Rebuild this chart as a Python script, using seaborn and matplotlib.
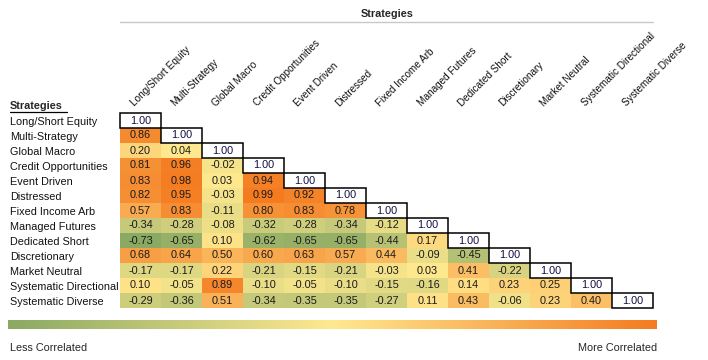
import numpy as np
import pandas as pd
import matplotlib
matplotlib.use("Agg")
import matplotlib.pyplot as plt
import seaborn as sns
from matplotlib.colors import LinearSegmentedColormap, TwoSlopeNorm
from matplotlib.patches import Rectangle
from matplotlib.transforms import blended_transform_factory

strategies = ["Long/Short Equity", "Multi-Strategy", "Global Macro", "Credit Opportunities",
              "Event Driven", "Distressed", "Fixed Income Arb", "Managed Futures",
              "Dedicated Short", "Discretionary", "Market Neutral",
              "Systematic Directional", "Systematic Diverse"]

# lower triangle, row by row (diagonal included)
row_lse = [1.00]
row_ms = [0.86, 1.00]
row_gm = [0.20, 0.04, 1.00]
row_co = [0.81, 0.96, -0.02, 1.00]
row_ed = [0.83, 0.98, 0.03, 0.94, 1.00]
row_dist = [0.82, 0.95, -0.03, 0.99, 0.92, 1.00]
row_fia = [0.57, 0.83, -0.11, 0.80, 0.83, 0.78, 1.00]
row_mf = [-0.34, -0.28, -0.08, -0.32, -0.28, -0.34, -0.12, 1.00]
row_ds = [-0.73, -0.65, 0.10, -0.62, -0.65, -0.65, -0.44, 0.17, 1.00]
row_disc = [0.68, 0.64, 0.50, 0.60, 0.63, 0.57, 0.44, -0.09, -0.45, 1.00]
row_mn = [-0.17, -0.17, 0.22, -0.21, -0.15, -0.21, -0.03, 0.03, 0.41, -0.22, 1.00]
row_sdir = [0.10, -0.05, 0.89, -0.10, -0.05, -0.10, -0.15, -0.16, 0.14, 0.23, 0.25, 1.00]
row_sdiv = [-0.29, -0.36, 0.51, -0.34, -0.35, -0.35, -0.27, 0.11, 0.43, -0.06, 0.23, 0.40, 1.00]

rows = [row_lse, row_ms, row_gm, row_co, row_ed, row_dist, row_fia, row_mf,
        row_ds, row_disc, row_mn, row_sdir, row_sdiv]

n = len(strategies)
mat = np.full((n, n), np.nan)
for i, r in enumerate(rows):
    mat[i, :len(r)] = r
df = pd.DataFrame(mat, index=strategies, columns=strategies)

sns.set_theme(style="white")
plt.rcParams['font.family'] = ['Liberation Sans', 'DejaVu Sans']

cmap = LinearSegmentedColormap.from_list("corr", ["#8AA963", "#FFE98F", "#F47B20"])
norm = TwoSlopeNorm(vmin=-0.73, vcenter=0.04, vmax=0.99)

fig = plt.figure(figsize=(7.08, 3.60), dpi=100)
W, H = 708, 360
ax = fig.add_axes([120 / W, (H - 308) / H, 533 / W, 195 / H])

offdiag = ~np.tril(np.ones((n, n), dtype=bool), k=-1)
sns.heatmap(df, mask=offdiag, cmap=cmap, norm=norm, annot=True, fmt=".2f",
            annot_kws={"fontsize": 7.8, "color": "#1a1a1a"},
            cbar=False, linewidths=0, ax=ax)

# diagonal: white boxes outlined in black
for i in range(n):
    ax.add_patch(Rectangle((i, i), 1, 1, facecolor="white", edgecolor="black",
                           lw=1.1, zorder=3, clip_on=False))
    ax.text(i + 0.5, i + 0.5, f"{mat[i, i]:.2f}", ha="center", va="center",
            fontsize=7.8, color="#101040", zorder=4)

ax.set_xticks([])
ax.set_yticks([])
ax.set_xlabel("")
ax.set_ylabel("")
for s in ax.spines.values():
    s.set_visible(False)

# row labels (baseline placed on whole pixels to avoid jitter)
tr = blended_transform_factory(fig.transFigure, ax.transData)
for i, name in enumerate(strategies):
    ax.text(10.2 / W, i + 0.8, name, transform=tr, ha="left", va="baseline",
            fontsize=7.8, color="#111111")

# column labels, rotated
for j, name in enumerate(strategies):
    ax.text(j + 0.38, -0.3, name, rotation=45, rotation_mode="anchor",
            ha="left", va="bottom", fontsize=7.2, color="#111111", clip_on=False)

# headers
fig.text(10 / W, 1 - 106 / H, "Strategies", ha="left", va="center",
         fontsize=7.8, fontweight="bold")
fig.add_artist(plt.Line2D([10 / W, 67 / W], [1 - 112 / H, 1 - 112 / H],
                          color="black", lw=0.9))
fig.text(387 / W, 1 - 14 / H, "Strategies", ha="center", va="center",
         fontsize=7.8, fontweight="bold")
fig.add_artist(plt.Line2D([120 / W, 653 / W], [1 - 21.5 / H, 1 - 21.5 / H],
                          color="#c8c8c8", lw=1.0))

# colour scale bar
cax = fig.add_axes([8 / W, (H - 329) / H, 649 / W, 9 / H])
grad = np.linspace(0, 1, 512)[np.newaxis, :]
cax.imshow(grad, aspect="auto", cmap=cmap)
cax.set_axis_off()

fig.text(10 / W, 1 - 348 / H, "Less Correlated", ha="left", va="center", fontsize=7.8)
fig.text(657 / W, 1 - 348 / H, "More Correlated", ha="right", va="center", fontsize=7.8)

fig.savefig("out.png", dpi=100)
